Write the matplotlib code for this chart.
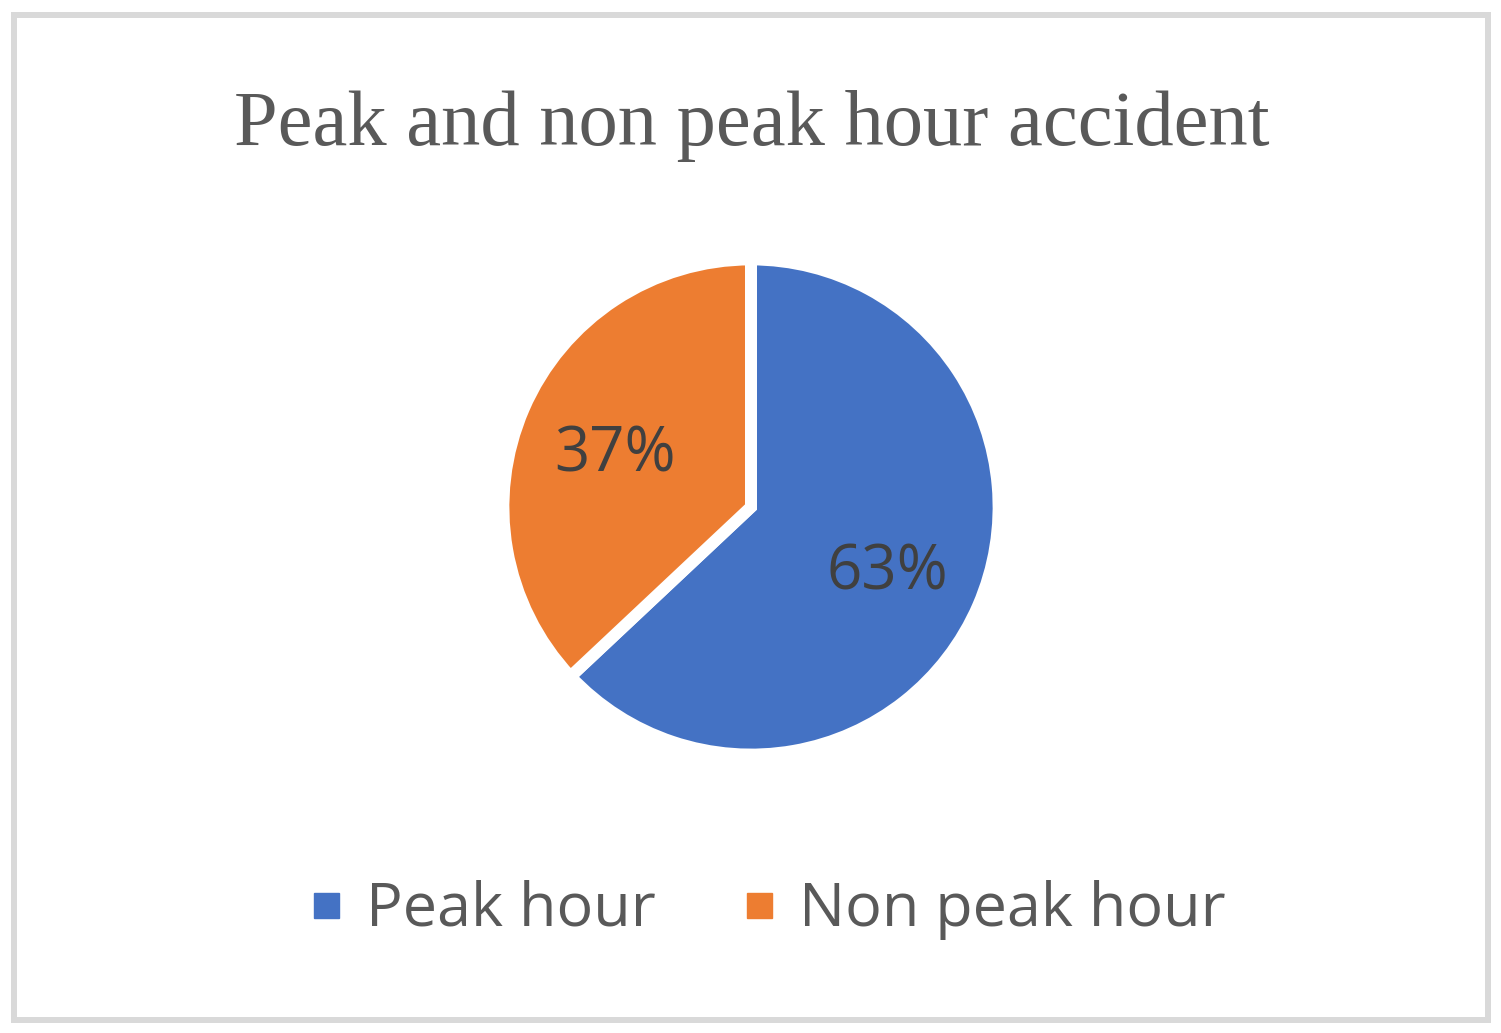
import matplotlib
matplotlib.use("Agg")
import matplotlib.pyplot as plt
from matplotlib.patches import Rectangle
from matplotlib.lines import Line2D

title = "Peak and non peak hour accident"
categories = ["Peak hour", "Non peak hour"]
values = [63, 37]
colors = ["#4472C4", "#ED7D31"]

W, H = 1501, 1033
fig = plt.figure(figsize=(W / 100, H / 100), dpi=100)
fig.patch.set_facecolor("white")

# border
fig.patches.append(Rectangle((14 / W, 1 - 1020 / H), (1488 - 14) / W, (1020 - 14.5) / H,
                             transform=fig.transFigure, fill=False, ec="#D9D9D9",
                             lw=6 * 0.72, zorder=0))

# title
fig.text(752 / W, 1 - 126 / H, title, ha="center", va="center",
         fontsize=56.5, family="Liberation Serif", color="#595959")

# pie
cx, cy, s = 751, 507, 520
ax = fig.add_axes([(cx - s / 2) / W, 1 - (cy + s / 2) / H, s / W, s / H])
wedges, texts, autotexts = ax.pie(
    values, colors=colors, startangle=90, counterclock=False, radius=1.0,
    autopct=lambda p: f"{p:.0f}%", pctdistance=0.6,
    wedgeprops=dict(edgecolor="white", linewidth=12 * 0.72),
    textprops=dict(fontsize=44.5, family="Open Sans", color="#404040"))
for t in autotexts:
    x, y = t.get_position()
    t.set_position((x, y - 7 / 247.6))
ax.set_xlim(-1.05, 1.05)
ax.set_ylim(-1.05, 1.05)
ax.set_aspect("equal")
ax.axis("off")

# legend
handles = [Line2D([], [], marker="s", linestyle="none", markersize=18,
                  markerfacecolor=c, markeredgecolor=c) for c in colors]
leg = fig.legend(handles, categories, loc="center", bbox_to_anchor=(768 / W, 1 - 910 / H),
                 ncol=2, frameon=False, handlelength=0.5, handletextpad=0.4,
                 columnspacing=1.45, prop=dict(family="Open Sans", size=44))
for t in leg.get_texts():
    t.set_color("#595959")

fig.savefig("out.png", dpi=100, facecolor="white")
